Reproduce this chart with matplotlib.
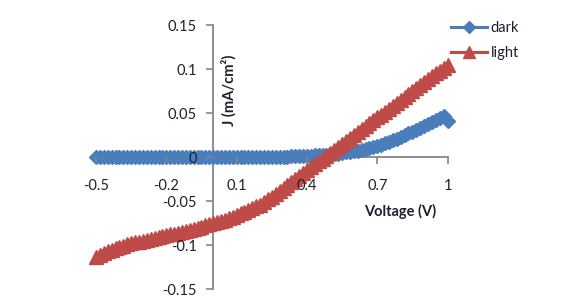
import matplotlib.pyplot as plt
import numpy as np

plt.rcParams['font.family'] = ['Lato', 'DejaVu Sans']

# voltage sweep, -0.5 V to 1 V
voltage = np.linspace(-0.5, 1.0, 91)

# current density (mA/cm2)
j_dark = [
    0.0, 0.0, 0.0, 0.0, 0.0, 0.0, 0.0, 0.0, 0.0, 0.0,
    0.0, 0.0, 0.0, 0.0, 0.0, 0.0, 0.0, 0.0, 0.0, 0.0,
    0.0, 0.0, 0.0, 0.0, 0.0, 0.0, 0.0, 0.0, 0.0, 0.0,
    0.0, 0.0, 0.0, 0.0, 0.0, 0.0, 0.0, 0.0, 0.0, 0.0,
    0.0, 0.0, 0.0, 0.0, 0.0, 0.0, 0.0, 0.0, 0.0003, 0.0005,
    0.0007, 0.001, 0.0012, 0.0013, 0.0015, 0.0017, 0.0018, 0.002, 0.0023, 0.0027,
    0.003, 0.0035, 0.004, 0.0045, 0.0052, 0.0058, 0.0065, 0.0073, 0.0082, 0.009,
    0.0102, 0.0113, 0.0125, 0.014, 0.0155, 0.017, 0.0188, 0.0207, 0.0225, 0.0247,
    0.0268, 0.029, 0.0312, 0.0333, 0.0355, 0.0377, 0.0398, 0.042, 0.0442, 0.0462,
    0.041,
]
j_light = [
    -0.114, -0.1115, -0.109, -0.107, -0.1053, -0.1037, -0.102, -0.1006, -0.0993, -0.098,
    -0.097, -0.096, -0.095, -0.094, -0.093, -0.092, -0.091, -0.090, -0.089, -0.088,
    -0.087, -0.086, -0.085, -0.084, -0.083, -0.0817, -0.0803, -0.079, -0.0777, -0.0763,
    -0.075, -0.0737, -0.0723, -0.071, -0.0694, -0.0677, -0.066, -0.064, -0.062, -0.060,
    -0.058, -0.056, -0.054, -0.0512, -0.0482, -0.045, -0.0417, -0.0383, -0.035, -0.0317,
    -0.0283, -0.025, -0.0217, -0.0183, -0.015, -0.0117, -0.0083, -0.005, -0.0017, 0.0017,
    0.005, 0.0083, 0.0117, 0.015, 0.0183, 0.0217, 0.025, 0.0283, 0.0317, 0.035,
    0.0383, 0.0417, 0.045, 0.0483, 0.0517, 0.055, 0.0583, 0.0617, 0.065, 0.0683,
    0.0717, 0.075, 0.0783, 0.0817, 0.085, 0.0883, 0.0917, 0.095, 0.0983, 0.1017,
    0.105,
]

x_ticks = [-0.5, -0.2, 0.1, 0.4, 0.7, 1.0]
x_labels = ['-0.5', '-0.2', '0.1', '0.4', '0.7', '1']
y_ticks = [-0.15, -0.1, -0.05, 0, 0.05, 0.1, 0.15]
y_labels = ['-0.15', '-0.1', '-0.05', '0', '0.05', '0.1', '0.15']

blue = '#4a7ebb'
red = '#be4b48'
grey = '#868686'
txt = '#1f1f2e'

fig = plt.figure(figsize=(5.82, 3.02), dpi=100)
ax = fig.add_axes([0.165, 0.043, 0.604, 0.874])

ax.plot(voltage, j_dark, color=blue, lw=2.2, marker='D', ms=7.5,
        label='dark', clip_on=False, zorder=3)
ax.plot(voltage, j_light, color=red, lw=2.2, marker='^', ms=10,
        label='light', clip_on=False, zorder=4)

ax.set_xlim(-0.5, 1.0)
ax.set_ylim(-0.15, 0.15)

# axes cross at the origin, Excel style; labels sit on top of the series
for s in ['top', 'right']:
    ax.spines[s].set_visible(False)
for s in ['left', 'bottom']:
    ax.spines[s].set_position(('data', 0))
    ax.spines[s].set_color(grey)
    ax.spines[s].set_linewidth(1.3)
    ax.spines[s].set_zorder(1)
ax.xaxis.set_zorder(5)
ax.yaxis.set_zorder(5)

ax.set_xticks(x_ticks)
ax.set_xticklabels(x_labels)
ax.set_yticks(y_ticks)
ax.set_yticklabels(y_labels)
ax.tick_params(axis='x', direction='out', length=5, width=1.2, color=grey,
               pad=10.5, labelsize=10.5, labelcolor=txt)
ax.tick_params(axis='y', direction='out', length=5, width=1.2, color=grey,
               pad=7, labelsize=10.5, labelcolor=txt)

ax.text(0.068, 0.076, 'J (mA/cm²)', rotation=90, ha='center', va='center',
        fontsize=10.5, fontweight='bold', color=txt, transform=ax.transData)
ax.text(0.797, -0.0617, 'Voltage (V)', ha='center', va='center',
        fontsize=10.5, fontweight='bold', color=txt, transform=ax.transData)

ax.legend(loc='upper left', bbox_to_anchor=(451 / 582, 1 - 21 / 302),
          bbox_transform=fig.transFigure, frameon=False, fontsize=10.5,
          handlelength=2.5, handletextpad=0.2, labelspacing=0.75,
          markerscale=0.8, borderaxespad=0, borderpad=0, labelcolor=txt)

fig.savefig('out.png', dpi=100)
